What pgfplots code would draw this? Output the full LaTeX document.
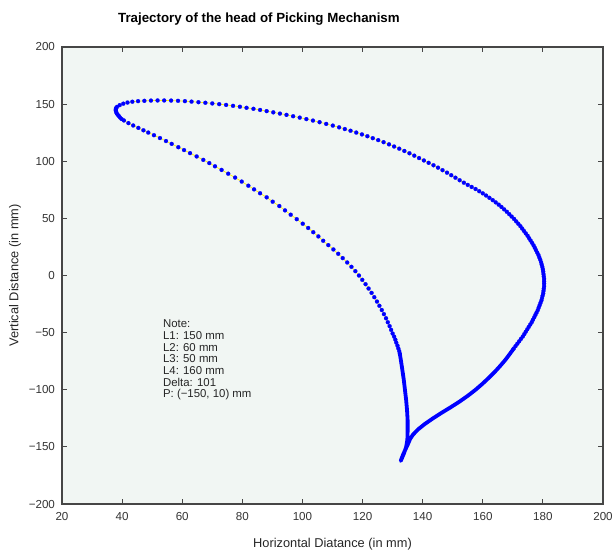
\documentclass[border=0pt]{standalone}
\usepackage{fontspec}
\setmainfont{Liberation Sans}
\usepackage{pgfplots}
\pgfplotsset{compat=1.18}
\definecolor{bgc}{RGB}{241,246,243}
\definecolor{axc}{RGB}{70,70,70}
\begin{document}
\begin{tikzpicture}
\useasboundingbox (-31pt,-24pt) rectangle (275.5pt,252pt);
\begin{axis}[
  scale only axis, width=270.5pt, height=228.5pt,
  xmin=20, xmax=200, ymin=-200, ymax=200,
  xtick={20,40,...,200}, ytick={-200,-150,...,200},
  yticklabels={−200,−150,−100,−50,0,50,100,150,200},
  xticklabels={20,40,60,80,100,120,140,160,180,200},
  tick align=inside, major tick length=2.5pt,
  tick style={axc, line width=0.5pt},
  axis line style={axc, line width=0.6pt},
  axis background/.style={fill=bgc},
  ticklabel style={font=\fontsize{5.8}{6.5}\selectfont, text=black!80},
  xticklabel style={yshift=-0.5pt},
  title={\textbf{Trajectory of the head of Picking Mechanism}},
  every axis title/.style={font=\fontsize{6.65}{7.5}\selectfont, at={(axis description cs:0.364,1.061)}, anchor=center},
  xlabel={Horizontal Diatance (in mm)},
  ylabel={Vertical Distance (in mm)},
  label style={font=\fontsize{6.4}{7.5}\selectfont, text=black!85},
  xlabel style={at={(axis description cs:0.5,-0.0875)}, anchor=center},
  ylabel style={at={(axis description cs:-0.0869,0.5)}, anchor=center},
]
\addplot[yellow, line width=0.35pt, mark=*, mark size=1.0pt,
  mark options={solid, fill=blue, draw=blue, line width=0.1pt}] coordinates {
(132.4,-68.5)(132.2,-66.2)(131.9,-63.8)(131.6,-61.3)(131.2,-58.7)(130.9,-56.1)(130.5,-53.5)(130.0,-50.8)(129.5,-47.6)(129.0,-44.3)(128.4,-40.9)(127.8,-37.4)(127.1,-33.8)(126.4,-30.2)(125.6,-26.5)(124.8,-22.8)(123.9,-19.0)(123.0,-15.2)(122.0,-11.4)(121.0,-7.6)(119.9,-3.8)(118.8,0.0)(117.6,3.8)(116.3,7.6)(114.9,11.4)(113.4,15.2)(111.9,19.0)(110.3,22.8)
(108.6,26.6)(106.9,30.4)(105.3,34.2)(103.6,37.9)(101.9,41.6)(100.1,45.3)(98.1,49.3)(96.1,53.2)(94.2,57.0)(92.3,60.8)(90.1,64.6)(88.1,68.4)(85.9,72.0)(83.9,75.4)(82.0,78.6)(79.8,82.2)(77.6,85.7)(75.3,89.1)(73.1,92.4)(70.9,95.6)(69.0,98.4)(67.0,101.2)(64.8,104.2)(62.6,107.1)(60.6,109.8)(58.7,112.3)(56.5,115.2)(54.6,117.7)(52.6,120.3)(50.6,122.8)(48.7,125.1)(47.1,127.1)(45.4,129.2)(43.7,131.3)(42.1,133.4)(40.6,135.7)(39.8,137.0)(39.3,138.3)(38.9,139.6)(38.5,140.8)(38.2,142.0)(38.0,143.3)(37.9,144.4)(37.9,145.6)(38.0,146.6)
(38.3,147.6)(39.2,149.1)(40.4,150.4)(41.8,151.4)(43.4,152.1)(45.3,152.6)(47.4,152.9)(49.6,153.1)(51.8,153.2)(54.0,153.2)(56.3,153.1)(58.6,152.9)(60.9,152.6)(63.1,152.2)(65.4,151.7)(67.7,151.2)(70.0,150.6)(72.3,150.0)(74.6,149.3)(76.9,148.5)(79.2,147.7)(81.4,146.8)(83.7,145.9)(85.9,144.9)(88.1,143.9)(90.3,142.8)(92.5,141.7)(94.7,140.6)(96.9,139.4)(99.1,138.2)(101.3,136.9)(103.5,135.6)(105.7,134.2)(107.9,132.7)
(110.1,131.2)(112.2,129.7)(114.1,128.2)(116.0,126.7)(117.9,125.1)(119.8,123.5)(121.6,121.9)(123.4,120.2)(125.2,118.5)(127.0,116.7)(128.8,114.8)(130.5,112.9)(132.2,111.0)(133.9,109.0)(135.6,107.0)(137.2,104.9)(138.8,102.8)(140.4,100.7)(142.0,98.6)(143.6,96.5)(145.1,94.4)(146.6,92.2)(148.1,90.0)(149.5,87.8)(150.9,85.6)(152.3,83.4)(153.7,81.2)
(155.0,79.3)(156.3,77.5)(157.6,75.7)(158.8,73.8)(160.0,71.9)(161.1,70.0)(162.2,68.0)(163.3,66.0)(164.3,64.0)(165.3,62.0)(166.2,60.0)(167.1,57.9)(168.0,55.8)(168.8,53.7)(169.6,51.6)(170.4,49.5)(171.1,47.4)(171.8,45.3)(172.5,43.2)(173.1,41.1)(173.7,39.0)(174.3,36.9)(174.9,34.8)(175.4,32.7)(175.9,30.6)(176.4,28.5)(176.9,26.4)(177.3,24.3)(177.7,22.2)(178.1,20.1)(178.5,18.0)(178.8,15.9)(179.1,13.8)(179.4,11.7)(179.6,9.6)(179.8,7.5)(180.0,5.4)(180.1,3.3)(180.2,1.2)(180.3,-0.9)(180.4,-3.0)(180.4,-5.1)(180.4,-7.2)(180.4,-9.3)(180.3,-11.4)(180.2,-13.5)(180.1,-15.6)(179.9,-17.7)(179.7,-19.8)(179.5,-21.9)(179.2,-24.0)(178.9,-26.1)(178.6,-28.2)(178.3,-30.3)(177.9,-32.4)(177.5,-34.5)(177.1,-36.6)(176.7,-38.7)(176.3,-40.8)(175.8,-42.9)(175.3,-45.0)(174.8,-47.1)(174.3,-49.2)(173.8,-51.3)(173.3,-53.4)(172.7,-55.5)(172.1,-57.6)(171.5,-59.7)(170.9,-61.8)(170.3,-63.9)
};
\addplot[blue, line width=1.9pt, line join=round, line cap=round] coordinates {
(170.3,-63.9)(168.9,-69.0)(167.4,-74.2)(165.7,-79.4)(163.9,-84.6)(161.9,-89.8)(159.8,-95.0)(157.5,-100.2)(155.0,-105.3)(152.3,-110.3)(149.4,-115.2)(146.4,-120.0)(143.5,-124.9)(140.8,-129.8)(138.5,-134.6)(136.8,-139.2)(135.8,-143.2)(135.2,-147.0)(134.4,-151.5)(133.6,-156.0)(133.0,-160.0)(132.7,-162.3)(133.0,-160.5)(133.8,-155.5)(134.5,-150.0)(134.9,-144.0)(135.0,-136.0)(135.0,-127.0)(134.8,-118.0)(134.5,-109.0)(134.1,-100.0)(133.7,-91.0)(133.2,-82.0)(132.8,-75.0)(132.4,-68.5)
};
\node[anchor=north west, align=left, inner sep=0pt, font=\fontsize{5.7}{5.85}\selectfont, text=black!85] at (axis cs:53.5,-38.5)
  {Note:\\L1: 150 mm\\L2: 60 mm\\L3: 50 mm\\L4: 160 mm\\Delta: 101\\P: (−150, 10) mm};
\end{axis}
\end{tikzpicture}
\end{document}
